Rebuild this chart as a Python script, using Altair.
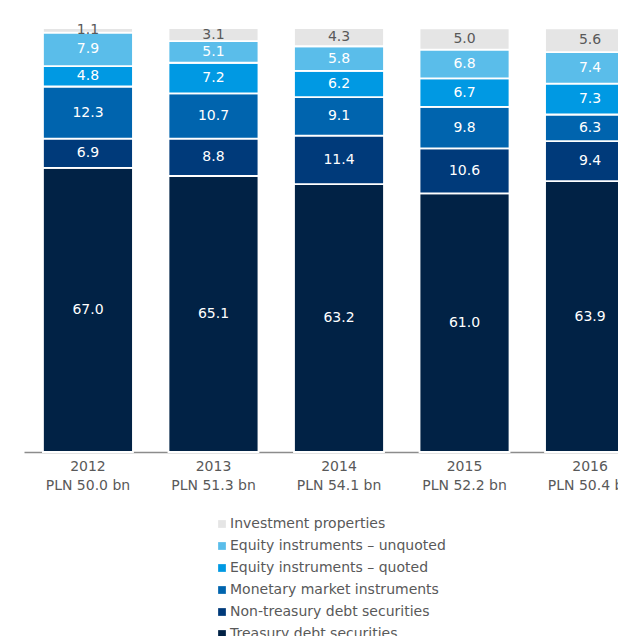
import altair as alt
import pandas as pd

years = ["2012", "2013", "2014", "2015", "2016"]
totals = ["PLN 50.0 bn", "PLN 51.3 bn", "PLN 54.1 bn", "PLN 52.2 bn", "PLN 50.4 bn"]

categories = [
    "Treasury debt securities",
    "Non-treasury debt securities",
    "Monetary market instruments",
    "Equity instruments – quoted",
    "Equity instruments – unquoted",
    "Investment properties",
]
treasury = [67.0, 65.1, 63.2, 61.0, 63.9]
non_treasury = [6.9, 8.8, 11.4, 10.6, 9.4]
monetary = [12.3, 10.7, 9.1, 9.8, 6.3]
eq_quoted = [4.8, 7.2, 6.2, 6.7, 7.3]
eq_unquoted = [7.9, 5.1, 5.8, 6.8, 7.4]
inv_prop = [1.1, 3.1, 4.3, 5.0, 5.6]
series = [treasury, non_treasury, monetary, eq_quoted, eq_unquoted, inv_prop]

colors = ["#012245", "#003A7A", "#0064AE", "#0099E3", "#5ABDEA", "#E5E5E5"]
text_colors = ["white", "white", "white", "white", "white", "#595959"]

rows = []
for ci, (cat, vals) in enumerate(zip(categories, series)):
    for yi, (yr, tot) in enumerate(zip(years, totals)):
        rows.append({
            "label": f"{yr}|{tot}",
            "category": cat,
            "order": ci,
            "value": vals[yi],
            "txt": f"{vals[yi]:.1f}",
            "tcolor": text_colors[ci],
        })
df = pd.DataFrame(rows)

FONT = "DejaVu Sans"
legend_domain = categories[::-1]
legend_range = colors[::-1]

base = alt.Chart(df).transform_stack(
    stack="value", groupby=["label"], as_=["y0", "y1"],
    sort=[alt.SortField("order", order="ascending")],
).transform_calculate(mid="(datum.y0 + datum.y1) / 2")

xenc = alt.X(
    "label:N", sort=None, title=None,
    scale=alt.Scale(range=[0, 630], paddingInner=0.283, paddingOuter=0.151),
    axis=alt.Axis(
        labelExpr="split(datum.label, '|')", labelAngle=0, labelFont=FONT,
        labelFontSize=14, labelColor="#595959", labelPadding=7,
        labelLineHeight=19, ticks=False, domainColor="#8C8C8C", domainWidth=1.5,
        labelBaseline="top",
    ),
)
yscale = alt.Scale(domain=[0, 100])

bars = base.mark_bar(stroke="white", strokeWidth=1.8).encode(
    x=xenc,
    y=alt.Y("y0:Q", scale=yscale, axis=None),
    y2="y1:Q",
    color=alt.Color(
        "category:N",
        scale=alt.Scale(domain=legend_domain, range=legend_range),
        legend=alt.Legend(
            orient="none", legendX=191, legendY=489, title=None,
            symbolType="square", symbolSize=60, symbolStrokeWidth=0,
            labelFont=FONT, labelFontSize=14, labelColor="#595959",
            rowPadding=8, labelOffset=1, direction="vertical", labelLimit=500,
        ),
    ),
)

texts = base.mark_text(font=FONT, fontSize=14, baseline="middle").encode(
    x=alt.X("label:N", sort=None),
    y=alt.Y("mid:Q", scale=yscale),
    text="txt:N",
    color=alt.Color("tcolor:N", scale=None),
)

chart = alt.layer(bars, texts).properties(
    width=594, height=424,
    autosize=alt.AutoSizeParams(type="none"),
    padding={"left": 16, "top": 20, "right": 0, "bottom": 184},
).configure_view(stroke=None)

chart.save("out.html", embed_options={"renderer": "svg", "actions": False})
